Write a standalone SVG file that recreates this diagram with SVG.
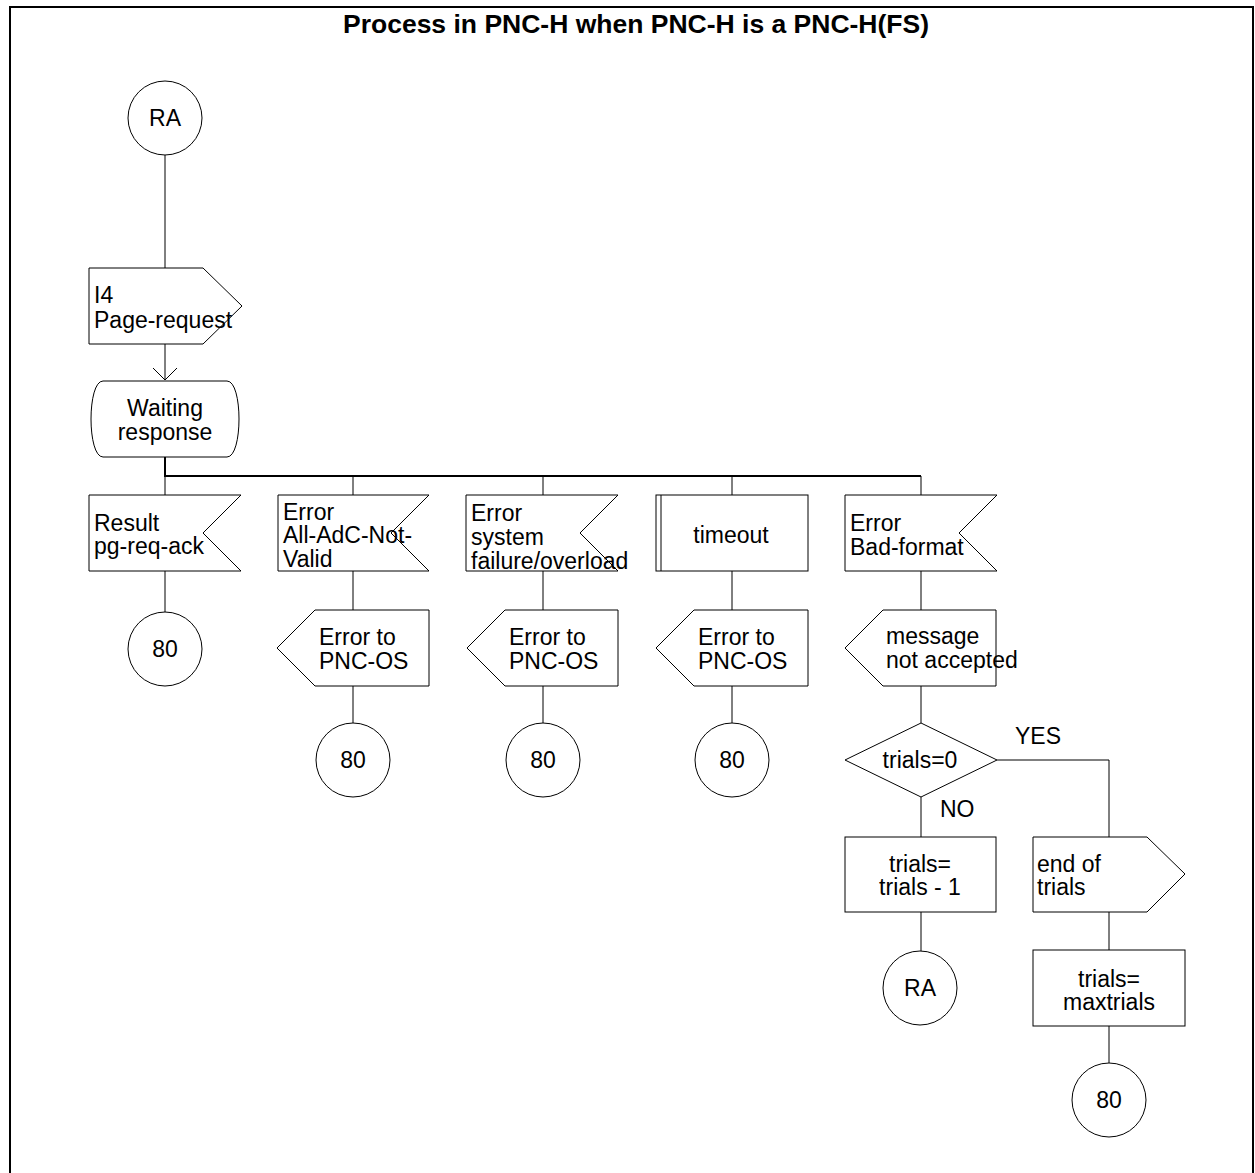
<svg xmlns="http://www.w3.org/2000/svg" width="1255" height="1173" viewBox="0 0 1255 1173">
<style>
.s{fill:#fff;stroke:#000;stroke-width:1}
.l{fill:none;stroke:#000;stroke-width:1}
.t{font-family:"Liberation Sans",Arial,sans-serif;font-size:23px;fill:#000}
.c{text-anchor:middle}
.title{font-family:"Liberation Sans",Arial,sans-serif;font-size:26.5px;font-weight:bold;text-anchor:middle;fill:#000}
</style>
<rect width="1255" height="1173" fill="#fff"/>
<path d="M10,1173 V7 H1253 V1173" fill="none" stroke="#000" stroke-width="2"/>
<text class="title" x="636" y="33">Process in PNC-H when PNC-H is a PNC-H(FS)</text>

<g id="connectors">
<path class="l" d="M165,155 V268"/>
<path class="l" d="M165,344 V380 M153,368 L165,380 L177,368"/>
<path fill="none" stroke="#000" stroke-width="2" d="M165,457 V476 H921"/>
<path class="l" d="M165,476 V495 M165,571 V612"/>
<path class="l" d="M353,476 V495 M353,571 V610 M353,686 V723"/>
<path class="l" d="M543,476 V495 M543,571 V610 M543,686 V723"/>
<path class="l" d="M732,476 V495 M732,571 V610 M732,686 V723"/>
<path class="l" d="M921,476 V495 M921,571 V610 M921,686 V723 M921,797 V837 M921,912 V951"/>
<path class="l" d="M997,760 H1109 V837 M1109,912 V950 M1109,1026 V1063"/>
<text class="t" x="1015" y="744">YES</text>
<text class="t" x="940" y="817">NO</text>
</g>

<g id="ra-start">
<circle class="s" cx="165" cy="118" r="37"/>
<text class="t c" x="165" y="126">RA</text>
</g>

<g id="i4-page-request">
<polygon class="s" points="89,268 203,268 242,306 203,344 89,344"/>
<text class="t" x="94" y="303">I4</text>
<text class="t" x="94" y="328">Page-request</text>
</g>

<g id="waiting-response">
<path class="s" d="M103,381 H227 C243,381 243,457 227,457 H103 C87,457 87,381 103,381 Z"/>
<text class="t c" x="165" y="416">Waiting</text>
<text class="t c" x="165" y="440">response</text>
</g>

<g id="result-ack">
<polygon class="s" points="89,495 241,495 203,533 241,571 89,571"/>
<text class="t" x="94" y="531">Result</text>
<text class="t" x="94" y="554">pg-req-ack</text>
</g>

<g id="error-adc">
<polygon class="s" points="278,495 429,495 391,533 429,571 278,571"/>
<text class="t" x="283" y="520">Error</text>
<text class="t" x="283" y="543">All-AdC-Not-</text>
<text class="t" x="283" y="567">Valid</text>
</g>

<g id="error-system">
<polygon class="s" points="466,495 618,495 580,533 618,571 466,571"/>
<text class="t" x="471" y="521">Error</text>
<text class="t" x="471" y="545">system</text>
<text class="t" x="471" y="569">failure/overload</text>
</g>

<g id="timeout">
<rect class="s" x="656" y="495" width="152" height="76"/>
<path class="l" d="M661,495 V571"/>
<text class="t c" x="731" y="543">timeout</text>
</g>

<g id="error-bad-format">
<polygon class="s" points="845,495 997,495 959,533 997,571 845,571"/>
<text class="t" x="850" y="531">Error</text>
<text class="t" x="850" y="555">Bad-format</text>
</g>

<g id="c80-1">
<circle class="s" cx="165" cy="649" r="37"/>
<text class="t c" x="165" y="657">80</text>
</g>

<g id="err-os-1">
<polygon class="s" points="277,648 315,610 429,610 429,686 315,686"/>
<text class="t" x="319" y="645">Error to</text>
<text class="t" x="319" y="669">PNC-OS</text>
</g>
<g id="err-os-2">
<polygon class="s" points="467,648 505,610 618,610 618,686 505,686"/>
<text class="t" x="509" y="645">Error to</text>
<text class="t" x="509" y="669">PNC-OS</text>
</g>
<g id="err-os-3">
<polygon class="s" points="656,648 694,610 808,610 808,686 694,686"/>
<text class="t" x="698" y="645">Error to</text>
<text class="t" x="698" y="669">PNC-OS</text>
</g>
<g id="msg-not-accepted">
<polygon class="s" points="845,648 883,610 996,610 996,686 883,686"/>
<text class="t" x="886" y="644">message</text>
<text class="t" x="886" y="668">not accepted</text>
</g>

<g id="c80-2">
<circle class="s" cx="353" cy="760" r="37"/>
<text class="t c" x="353" y="768">80</text>
</g>
<g id="c80-3">
<circle class="s" cx="543" cy="760" r="37"/>
<text class="t c" x="543" y="768">80</text>
</g>
<g id="c80-4">
<circle class="s" cx="732" cy="760" r="37"/>
<text class="t c" x="732" y="768">80</text>
</g>

<g id="decision-trials">
<polygon class="s" points="845,760 921,723 997,760 921,797"/>
<text class="t c" x="920" y="768">trials=0</text>
</g>

<g id="trials-dec">
<rect class="s" x="845" y="837" width="151" height="75"/>
<text class="t c" x="920" y="872">trials=</text>
<text class="t c" x="920" y="895">trials - 1</text>
</g>

<g id="end-of-trials">
<polygon class="s" points="1033,837 1147,837 1185,874 1147,912 1033,912"/>
<text class="t" x="1037" y="872">end of</text>
<text class="t" x="1037" y="895">trials</text>
</g>

<g id="ra-end">
<circle class="s" cx="920" cy="988" r="37"/>
<text class="t c" x="920" y="996">RA</text>
</g>

<g id="trials-max">
<rect class="s" x="1033" y="950" width="152" height="76"/>
<text class="t c" x="1109" y="987">trials=</text>
<text class="t c" x="1109" y="1010">maxtrials</text>
</g>

<g id="c80-5">
<circle class="s" cx="1109" cy="1100" r="37"/>
<text class="t c" x="1109" y="1108">80</text>
</g>
</svg>
